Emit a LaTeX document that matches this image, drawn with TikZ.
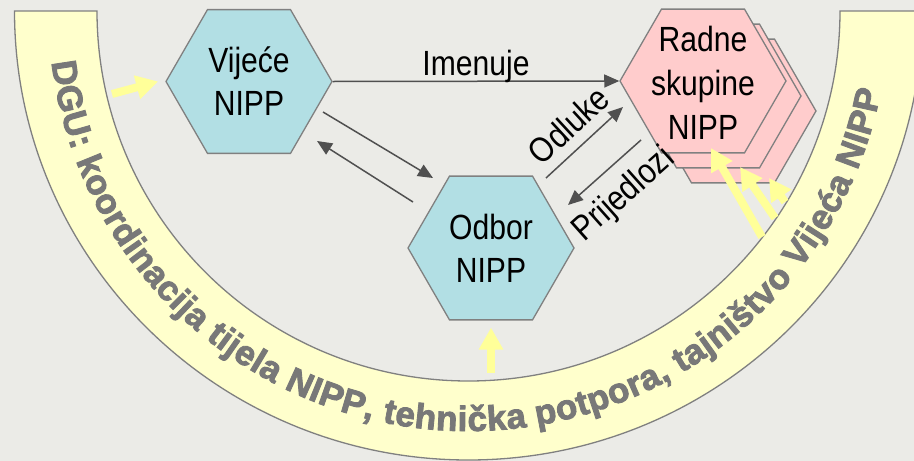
\documentclass[tikz,border=0pt]{standalone}
\usepackage{fontspec}
\setmainfont{Liberation Sans}
\newfontfamily\hexfont[FakeStretch=0.86]{Liberation Sans}
\newfontfamily\bandfont[FakeBold=2.5]{Liberation Sans Bold}
\usetikzlibrary{shapes.geometric, arrows.meta, decorations.text}
\definecolor{bgc}{RGB}{235,235,231}
\definecolor{bandc}{RGB}{255,255,204}
\definecolor{edgec}{RGB}{128,128,128}
\definecolor{hexc}{RGB}{178,223,228}
\definecolor{pinkc}{RGB}{255,204,204}
\definecolor{yelc}{RGB}{255,255,153}
\definecolor{linec}{RGB}{80,80,80}
\definecolor{bandtext}{RGB}{120,120,120}

\begin{document}
\begin{tikzpicture}[x=1pt, y=1pt,
hex/.style={regular polygon, regular polygon sides=6, minimum size=166pt, inner sep=0pt,
draw=edgec, line width=1.3pt, fill=hexc},
hexp/.style={hex, fill=pinkc},
lbl/.style={font=\hexfont\fontsize{35}{43}\selectfont, inner sep=2pt, align=center},
conn/.style={draw=linec, line width=1.5pt, -{Triangle[length=15pt,width=13pt]}},
yarrow/.style={draw=yelc, line width=8pt, -{Triangle[length=22pt,width=23pt]}}]

%background
\path[use as bounding box, fill=bgc] (0,0) rectangle (914,-461);
\clip (0,0) rectangle (914,-461);

%band
\draw[fill=bandc, draw=edgec, line width=1.3pt] (14.5,-11)
	arc[start angle=180, end angle=360, x radius=454, y radius=449] -- (840,-11)
	arc[start angle=0, end angle=-180, x radius=371.5, y radius=370] -- cycle;
\path[decorate, decoration={text along path, text align={fit to path}, text color=bandtext,
text={|\bandfont\fontsize{35}{40}\selectfont|DGU: koordinacija tijela NIPP, tehnička potpora, tajništvo Vijeća NIPP}}]
	(468.5,-11) ++(187:420) arc[start angle=187, end angle=349, radius=420];

%bodies
\node[hex] (vijece) at (249,-81.5) {};
\node[hex] (odbor) at (491,-248) {};
\node[hexp] (rad3) at (733,-111) {};
\node[hexp] (rad2) at (718,-96) {};
\node[hexp] (radne) at (703,-81) {};
\node[lbl] (vijecetxt) at (vijece.center) {Vijeće\\NIPP};
\node[lbl] (odbortxt) at (odbor.center) {Odbor\\NIPP};
\node[lbl, font=\hexfont\fontsize{35}{44}\selectfont] (radnetxt) at ([yshift=-2pt]radne.center) {Radne\\skupine\\NIPP};

%connectors
\draw[conn] (vijece.east) -- (radne.west) node[midway, lbl, anchor=base, yshift=6pt] {Imenuje};
\draw[conn] ([shift={(74,-30.5)}]vijece.center) -- ([shift={(-58,70)}]odbor.center);
\draw[conn] ([shift={(-78,46)}]odbor.center) -- ([shift={(68,-59.5)}]vijece.center);
\draw[conn] ([shift={(55,70)}]odbor.center) -- ([shift={(-80,-26)}]radne.center)
	node[midway, sloped, above=8pt, lbl] {Odluke};
\draw[conn] ([shift={(-62,-59)}]radne.center) -- ([shift={(77,43)}]odbor.center)
	node[midway, sloped, below=11pt, lbl] {Prijedlozi};

%support
\coordinate (ya) at (112,-94);
\coordinate (yb) at (491,-373);
\coordinate (y1) at (762,-237);
\coordinate (y2) at (775,-218);
\coordinate (y3) at (785,-202);
\coordinate (t1) at ([shift={(8,-67)}]radne.center);
\coordinate (t2) at ([shift={(22,-71)}]rad2.center);
\coordinate (t3) at ([shift={(36,-67)}]rad3.center);
\draw[yarrow] (ya) -- ([xshift=-7pt]vijece.west);
\draw[yarrow] (yb) -- ([yshift=-7pt]odbor.south);
\foreach \T in {1,2,3}
{\draw[yarrow] (y\T) -- (t\T);}
\end{tikzpicture}
\end{document}
